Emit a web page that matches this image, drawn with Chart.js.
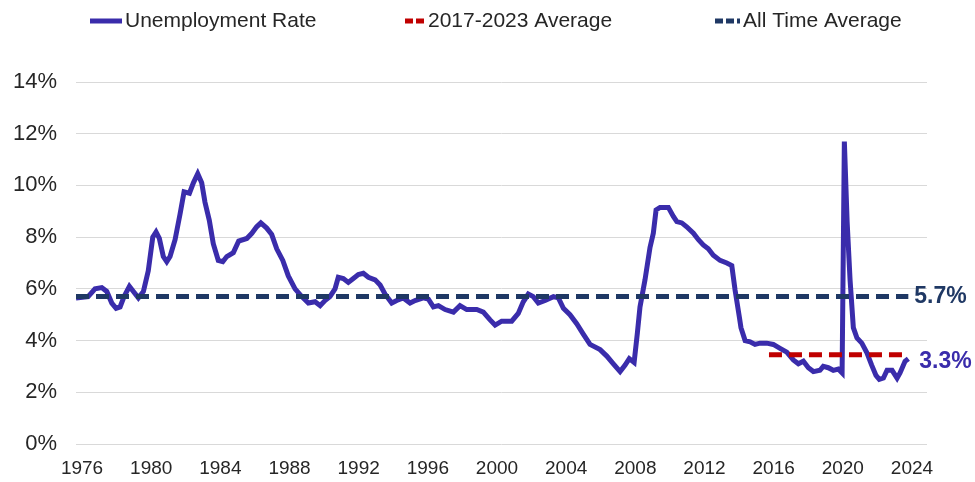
<!DOCTYPE html>
<html>
<head>
<meta charset="utf-8">
<script src="https://cdn.jsdelivr.net/npm/chart.js@4.4.0/dist/chart.umd.min.js"></script>
<style>
  html, body { margin: 0; padding: 0; background: #fff; }
  #wrap { width: 975px; height: 482px; }
</style>
</head>
<body>
<div id="wrap"><canvas id="lineChart"></canvas></div>
<script>
// monthly-ish readings of the unemployment rate (decimal year, %)
var years = [1975.65, 1976.35, 1976.75, 1977.14, 1977.43, 1977.72, 1977.97, 1978.20, 1978.43, 1978.74,
  1978.97, 1979.26, 1979.55, 1979.83, 1980.09, 1980.28, 1980.47, 1980.70, 1980.90, 1981.09,
  1981.38, 1981.67, 1981.90, 1982.21, 1982.44, 1982.69, 1982.92, 1983.11, 1983.36, 1983.59,
  1983.88, 1984.14, 1984.37, 1984.75, 1985.06, 1985.53, 1985.82, 1986.10, 1986.34, 1986.68,
  1986.97, 1987.26, 1987.61, 1987.93, 1988.32, 1988.71, 1989.09, 1989.48, 1989.77, 1990.05,
  1990.34, 1990.63, 1990.82, 1991.11, 1991.40, 1991.69, 1991.98, 1992.27, 1992.56, 1992.95,
  1993.24, 1993.52, 1993.91, 1994.20, 1994.58, 1994.97, 1995.26, 1995.74, 1996.03, 1996.32,
  1996.61, 1997.00, 1997.48, 1997.86, 1998.25, 1998.83, 1999.21, 1999.60, 1999.89, 2000.27,
  2000.85, 2001.23, 2001.52, 2001.81, 2002.10, 2002.39, 2002.78, 2003.26, 2003.55, 2003.84,
  2004.22, 2004.61, 2004.99, 2005.38, 2005.96, 2006.35, 2006.73, 2007.12, 2007.41, 2007.65,
  2007.93, 2008.12, 2008.27, 2008.56, 2008.85, 2009.04, 2009.20, 2009.43, 2009.91, 2010.20,
  2010.40, 2010.69, 2010.97, 2011.36, 2011.65, 2011.93, 2012.22, 2012.51, 2012.90, 2013.29,
  2013.58, 2013.77, 2014.02, 2014.11, 2014.35, 2014.64, 2014.92, 2015.21, 2015.60, 2015.98,
  2016.37, 2016.76, 2017.14, 2017.43, 2017.72, 2018.01, 2018.30, 2018.68, 2018.87, 2019.16,
  2019.45, 2019.74, 2019.96, 2020.09, 2020.25, 2020.42, 2020.61, 2020.82, 2021.10, 2021.38,
  2021.67, 2021.92, 2022.11, 2022.35, 2022.56, 2022.85, 2023.14, 2023.31, 2023.60, 2023.79];
var rate = [5.65, 5.7, 6.0, 6.05, 5.9, 5.45, 5.25, 5.3, 5.7, 6.1,
  5.9, 5.65, 5.9, 6.7, 8.0, 8.2, 7.95, 7.25, 7.05, 7.25,
  7.9, 8.9, 9.75, 9.7, 10.1, 10.45, 10.1, 9.35, 8.65, 7.75,
  7.1, 7.05, 7.25, 7.4, 7.85, 7.95, 8.15, 8.4, 8.55, 8.35,
  8.1, 7.55, 7.1, 6.5, 6.0, 5.7, 5.45, 5.5, 5.35, 5.55,
  5.7, 6.0, 6.45, 6.4, 6.25, 6.4, 6.55, 6.6, 6.45, 6.35,
  6.15, 5.8, 5.45, 5.55, 5.65, 5.45, 5.55, 5.65, 5.6, 5.3,
  5.35, 5.2, 5.1, 5.35, 5.2, 5.2, 5.1, 4.8, 4.6, 4.75,
  4.75, 5.05, 5.5, 5.8, 5.7, 5.45, 5.55, 5.7, 5.65, 5.25,
  5.0, 4.65, 4.25, 3.85, 3.65, 3.4, 3.1, 2.8, 3.05, 3.3,
  3.15, 4.3, 5.3, 6.35, 7.6, 8.15, 9.05, 9.15, 9.15, 8.8,
  8.6, 8.55, 8.4, 8.15, 7.9, 7.7, 7.55, 7.3, 7.1, 7.0,
  6.9, 5.95, 4.9, 4.5, 4.0, 3.95, 3.85, 3.9, 3.9, 3.85,
  3.7, 3.55, 3.25, 3.1, 3.2, 2.95, 2.8, 2.85, 3.0, 2.95,
  2.85, 2.9, 2.75, 11.7, 8.6, 6.35, 4.5, 4.1, 3.9, 3.55,
  3.05, 2.65, 2.5, 2.55, 2.85, 2.85, 2.55, 2.75, 3.2, 3.3];

var allTimeAvg = 5.7;
var recentAvg = 3.45;
var recentStart = 2015.73;
var lastLabel = '3.3%';
var tickYears = [1976, 1980, 1984, 1988, 1992, 1996, 2000, 2004, 2008, 2012, 2016, 2020, 2024];
var yTicks = [0, 2, 4, 6, 8, 10, 12, 14];

var purple = '#3A2CAB';
var navy = '#1F3864';
var red = '#C00000';
var fontFam = '"Liberation Sans", Arial, sans-serif';

var first = years[0];
var last = years[years.length - 1];

var endLabels = {
  id: 'endLabels',
  afterDatasetsDraw: function(chart) {
    var ctx = chart.ctx;
    var x = chart.scales.x.getPixelForValue(last);
    var y = chart.scales.y;
    ctx.save();
    ctx.font = 'bold 23px ' + fontFam;
    ctx.textBaseline = 'middle';
    ctx.fillStyle = navy;
    ctx.fillText(allTimeAvg.toFixed(1) + '%', x + 6, y.getPixelForValue(allTimeAvg));
    ctx.fillStyle = purple;
    ctx.fillText(lastLabel, x + 11, y.getPixelForValue(rate[rate.length - 1]) + 3);
    ctx.restore();
  }
};

// legend drawn by hand so the spacing follows the original
var legendItems = [
  { text: 'Unemployment Rate', color: purple, dash: [], x: 90, w: 32 },
  { text: '2017-2023 Average', color: red, dash: [8, 3], x: 405, w: 20 },
  { text: 'All Time Average', color: navy, dash: [8, 3], x: 715, w: 25 }
];
var topLegend = {
  id: 'topLegend',
  afterDraw: function(chart) {
    var ctx = chart.ctx;
    ctx.save();
    legendItems.forEach(function(it) {
      ctx.strokeStyle = it.color;
      ctx.lineWidth = 5;
      ctx.lineCap = 'butt';
      ctx.setLineDash(it.dash);
      ctx.beginPath();
      ctx.moveTo(it.x, 21);
      ctx.lineTo(it.x + it.w, 21);
      ctx.stroke();
      ctx.fillStyle = '#262626';
      ctx.font = '21px ' + fontFam;
      ctx.textBaseline = 'middle';
      ctx.fillText(it.text, it.x + it.w + 3, 21);
    });
    ctx.restore();
  }
};

var ctxL = document.getElementById('lineChart').getContext('2d');
var myLineChart = new Chart(ctxL, {
  type: 'line',
  data: {
    datasets: [{
      label: 'Unemployment Rate',
      data: years.map(function(v, i) { return { x: v, y: rate[i] }; }),
      borderColor: purple,
      borderWidth: 5,
      pointRadius: 0,
      tension: 0,
      order: 2
    }, {
      label: '2017-2023 Average',
      data: [{ x: recentStart, y: recentAvg }, { x: last, y: recentAvg }],
      borderColor: red,
      borderWidth: 5,
      borderDash: [13, 7],
      pointRadius: 0,
      order: 1
    }, {
      label: 'All Time Average',
      data: [{ x: first, y: allTimeAvg }, { x: last, y: allTimeAvg }],
      borderColor: navy,
      borderWidth: 5,
      borderDash: [13, 7],
      pointRadius: 0,
      order: 1
    }]
  },
  options: {
    responsive: true,
    maintainAspectRatio: false,
    animation: false,
    layout: { padding: { left: 10, right: 48, top: 82, bottom: 7 } },
    plugins: {
      tooltip: { enabled: false },
      legend: { display: false }
    },
    scales: {
      x: {
        type: 'linear',
        min: 1975.65,
        max: 2024.87,
        afterBuildTicks: function(scale) {
          scale.ticks = tickYears.map(function(v) { return { value: v }; });
        },
        afterFit: function(scale) { scale.height = 31; },
        grid: { display: false },
        border: { display: false },
        ticks: {
          color: '#262626',
          padding: 5,
          maxRotation: 0,
          autoSkip: false,
          font: { family: fontFam, size: 19 },
          callback: function(v) { return String(v); }
        }
      },
      y: {
        min: 0,
        max: 14,
        afterBuildTicks: function(scale) {
          scale.ticks = yTicks.map(function(v) { return { value: v }; });
        },
        afterFit: function(scale) { scale.width = 66; },
        grid: { color: '#D9D9D9', lineWidth: 1, drawTicks: false },
        border: { display: false },
        ticks: {
          color: '#262626',
          padding: 19,
          font: { family: fontFam, size: 22 },
          callback: function(v) { return v + '%'; }
        }
      }
    }
  },
  plugins: [endLabels, topLegend]
});
</script>
</body>
</html>
